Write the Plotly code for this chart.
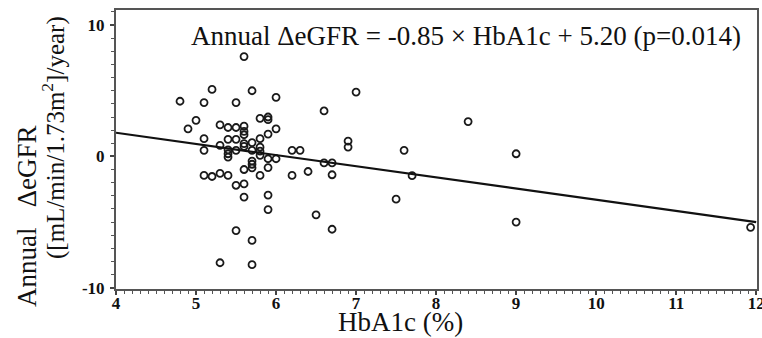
import plotly.graph_objects as go

# HbA1c (%) values
hba1c = [4.8, 4.9, 5.0, 5.1, 5.1, 5.1, 5.1, 5.2, 5.2, 5.3, 5.3, 5.3, 5.3,
         5.4, 5.4, 5.4, 5.4, 5.4, 5.4, 5.5, 5.5, 5.5, 5.5, 5.5, 5.5,
         5.6, 5.6, 5.6, 5.6, 5.6, 5.6, 5.6, 5.6, 5.6,
         5.7, 5.7, 5.7, 5.7, 5.7, 5.7, 5.7, 5.7,
         5.8, 5.8, 5.8, 5.8, 5.8, 5.8,
         5.9, 5.9, 5.9, 5.9, 5.9, 5.9, 5.9,
         6.0, 6.0, 6.0, 6.2, 6.2, 6.3, 6.4, 6.5, 6.6, 6.6, 6.7, 6.7, 6.7,
         6.9, 6.9, 7.0, 7.5, 7.6, 7.7, 8.4, 9.0, 9.0, 11.93]
# Annual change in eGFR
degfr = [4.2, 2.1, 2.75, 4.1, 1.35, 0.46, -1.45, 5.1, -1.53, 2.4, 0.84, -1.3, -8.1,
         2.2, 1.3, 0.5, 0.2, -0.05, -1.45, 4.1, 2.2, 1.3, 0.46, -2.2, -5.65,
         7.6, 2.3, 1.9, 1.65, 0.97, 0.76, -1.0, -2.1, -3.1,
         5.0, 1.05, 0.46, -0.36, -0.6, -0.87, -6.4, -8.25,
         2.9, 1.35, 0.7, 0.4, 0.08, -1.45,
         3.0, 2.8, 1.7, -0.18, -0.85, -2.95, -4.05,
         4.5, 2.1, -0.18, 0.46, -1.45, 0.46, -1.15, -4.45, 3.46, -0.5, -0.5, -1.4, -5.55,
         1.17, 0.71, 4.9, -3.26, 0.46, -1.47, 2.65, 0.2, -5.0, -5.4]

# Regression
slope = -0.85
intercept = 5.20
fit_x = [4, 12]
fit_y = [slope * v + intercept for v in fit_x]

x_ticks = [4, 5, 6, 7, 8, 9, 10, 11, 12]
y_ticks = [-10, 0, 10]

SERIF = "Liberation Serif, Times New Roman, serif"

fig = go.Figure()
fig.add_trace(go.Scatter(
    x=hba1c, y=degfr, mode="markers",
    marker=dict(symbol="circle-open", size=7, color="#1a1a1a", line=dict(width=1.8)),
    showlegend=False, hoverinfo="skip"))
fig.add_trace(go.Scatter(
    x=fit_x, y=fit_y, mode="lines",
    line=dict(color="#111111", width=2.2), showlegend=False, hoverinfo="skip"))

fig.update_layout(
    width=762, height=338,
    margin=dict(l=116, r=5, t=10, b=49, autoexpand=False),
    plot_bgcolor="white", paper_bgcolor="white",
    font=dict(family=SERIF, color="#111"),
)
axis_common = dict(
    showgrid=False, zeroline=False, showline=True, mirror=True, automargin=False,
    linecolor="#555", linewidth=2, ticks="outside", tickcolor="#444",
    ticklen=4, tickwidth=1.5, ticklabeloverflow="allow",
    tickfont=dict(family=SERIF, size=17, color="#111", weight="bold"),
)
fig.update_xaxes(range=[4, 12.01], tickvals=x_ticks, ticktext=[str(v) for v in x_ticks],
                 ticklabelstandoff=-6,
                 minor=dict(dtick=0.1, ticks="outside", ticklen=3, tickcolor="#555", tickwidth=1.2),
                 **axis_common)
fig.update_yaxes(range=[-10.1, 11.15], tickvals=y_ticks, ticktext=[str(v) for v in y_ticks],
                 ticklabelstandoff=2,
                 minor=dict(dtick=1, ticks="outside", ticklen=3, tickcolor="#555", tickwidth=1.2),
                 **axis_common)

fig.add_annotation(
    text="Annual \u0394eGFR = -0.85 \u00d7 HbA1c + 5.20 (p=0.014)",
    xref="paper", yref="paper", x=(466 - 116) / 641, y=(289 - 36) / 279,
    showarrow=False, font=dict(family=SERIF, size=27, color="#111"),
    xanchor="center", yanchor="middle")
fig.add_annotation(
    text="HbA1c (%)", xref="paper", yref="paper",
    x=(400 - 116) / 641, y=(289 - 322) / 279,
    showarrow=False, font=dict(family=SERIF, size=27, color="#111"),
    xanchor="center", yanchor="middle")
fig.add_annotation(
    text="Annual   \u0394eGFR", xref="paper", yref="paper",
    x=(27 - 116) / 641, y=(289 - 216) / 279, textangle=-90,
    showarrow=False, font=dict(family=SERIF, size=27, color="#111"),
    xanchor="center", yanchor="middle")
fig.add_annotation(
    text="([mL/min/1.73m<sup>2</sup>]/year)", xref="paper", yref="paper",
    x=(53 - 116) / 641, y=(289 - 138) / 279, textangle=-90,
    showarrow=False, font=dict(family=SERIF, size=25, color="#111"),
    xanchor="center", yanchor="middle")

fig.write_html("out.html", config={"displayModeBar": False},
               post_script="document.body.style.margin='0';")
